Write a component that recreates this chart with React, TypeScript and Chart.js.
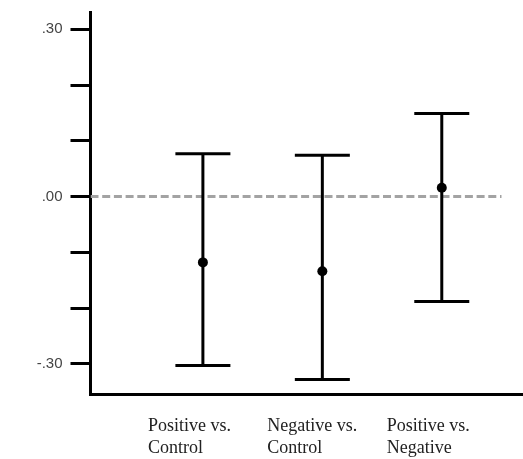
import React, { useEffect, useRef } from "react";
import { Chart, registerables } from "chart.js";

Chart.register(...registerables);

// ---- data ----
const categories: string[][] = [
  ["Positive vs.", "Control"],
  ["Negative vs.", "Control"],
  ["Positive vs.", "Negative"],
];
const means = [-0.118, -0.134, 0.016];
const lowers = [-0.303, -0.328, -0.188];
const uppers = [0.077, 0.074, 0.149];
const yTickValues = [-0.3, -0.2, -0.1, 0, 0.1, 0.2, 0.3];
const yTickLabels: Record<string, string> = { "-0.3": "-.30", "0": ".00", "0.3": ".30" };
const referenceValue = 0;
const referenceEnd = 3.5;

const X_MIN = 0.059;
const X_MAX = 3.68;
const Y_MIN = -0.354;
const Y_MAX = 0.331;

export default function App() {
  const ref = useRef<HTMLCanvasElement | null>(null);

  useEffect(() => {
    if (!ref.current) return;
    const xs = categories.map((_, i) => i + 1);

    const errorSets = xs.map((x, i) => ({
      type: "scatter" as const,
      data: [
        { x, y: lowers[i] },
        { x, y: uppers[i] },
      ],
      showLine: true,
      borderColor: "#000",
      borderWidth: 3,
      pointStyle: "line" as const,
      pointRadius: 27.5,
      pointBorderWidth: 3,
      pointBorderColor: "#000",
      pointBackgroundColor: "#000",
      clip: false,
      order: 2,
    }));

    const zeroPad = (axis: any) => {
      axis.paddingLeft = 0;
      axis.paddingRight = 0;
      axis.paddingTop = 0;
      axis.paddingBottom = 0;
    };

    const chart = new Chart(ref.current, {
      type: "scatter",
      data: {
        datasets: [
          {
            data: xs.map((x, i) => ({ x, y: means[i] })),
            pointRadius: 5,
            pointBackgroundColor: "#000",
            pointBorderWidth: 0,
            borderColor: "#000",
            clip: false,
            order: 1,
          },
          ...errorSets,
          {
            data: [
              { x: X_MIN, y: referenceValue },
              { x: referenceEnd, y: referenceValue },
            ],
            showLine: true,
            borderColor: "#a3a3a3",
            borderWidth: 3,
            borderDash: [8, 3.7],
            pointRadius: 0,
            order: 10,
          },
        ] as any,
      },
      options: {
        animation: false,
        responsive: false,
        events: [],
        layout: { autoPadding: false, padding: { top: 12, left: 0, right: 0, bottom: 0 } },
        plugins: { legend: { display: false }, tooltip: { enabled: false } },
        scales: {
          x: {
            type: "linear",
            min: X_MIN,
            max: X_MAX,
            afterBuildTicks: (axis: any) => {
              axis.ticks = xs.map((v) => ({ value: v }));
            },
            afterFit: (axis: any) => {
              axis.height = 65;
              zeroPad(axis);
            },
            grid: { display: false },
            border: { display: true, color: "#000", width: 3 },
            ticks: {
              autoSkip: false,
              maxRotation: 0,
              align: "start",
              labelOffset: -55,
              padding: 13,
              color: "#222",
              font: { family: "'Liberation Serif', 'Times New Roman', serif", size: 18, lineHeight: 1.25 },
              callback: (v: any) => categories[Math.round(Number(v)) - 1] ?? "",
            },
          },
          y: {
            type: "linear",
            min: Y_MIN,
            max: Y_MAX,
            afterBuildTicks: (axis: any) => {
              axis.ticks = yTickValues.map((v) => ({ value: v }));
            },
            afterFit: (axis: any) => {
              axis.width = 90.5;
              zeroPad(axis);
            },
            grid: {
              display: true,
              drawOnChartArea: false,
              drawTicks: true,
              tickLength: 20,
              color: "#000",
              lineWidth: 3,
            },
            border: { display: true, color: "#000", width: 3 },
            ticks: {
              autoSkip: false,
              padding: 8,
              color: "#444",
              font: { family: "'Liberation Sans', Arial, sans-serif", size: 15 },
              callback: (v: any) => {
                const key = String(Math.round(Number(v) * 10) / 10);
                return yTickLabels[key] ?? "";
              },
            },
          },
        },
      },
    });
    return () => chart.destroy();
  }, []);

  return (
    <div style={{ position: "fixed", left: 0, top: 0, width: 523, height: 459, background: "#fff" }}>
      <canvas ref={ref} width={523} height={459} style={{ display: "block" }} />
    </div>
  );
}
